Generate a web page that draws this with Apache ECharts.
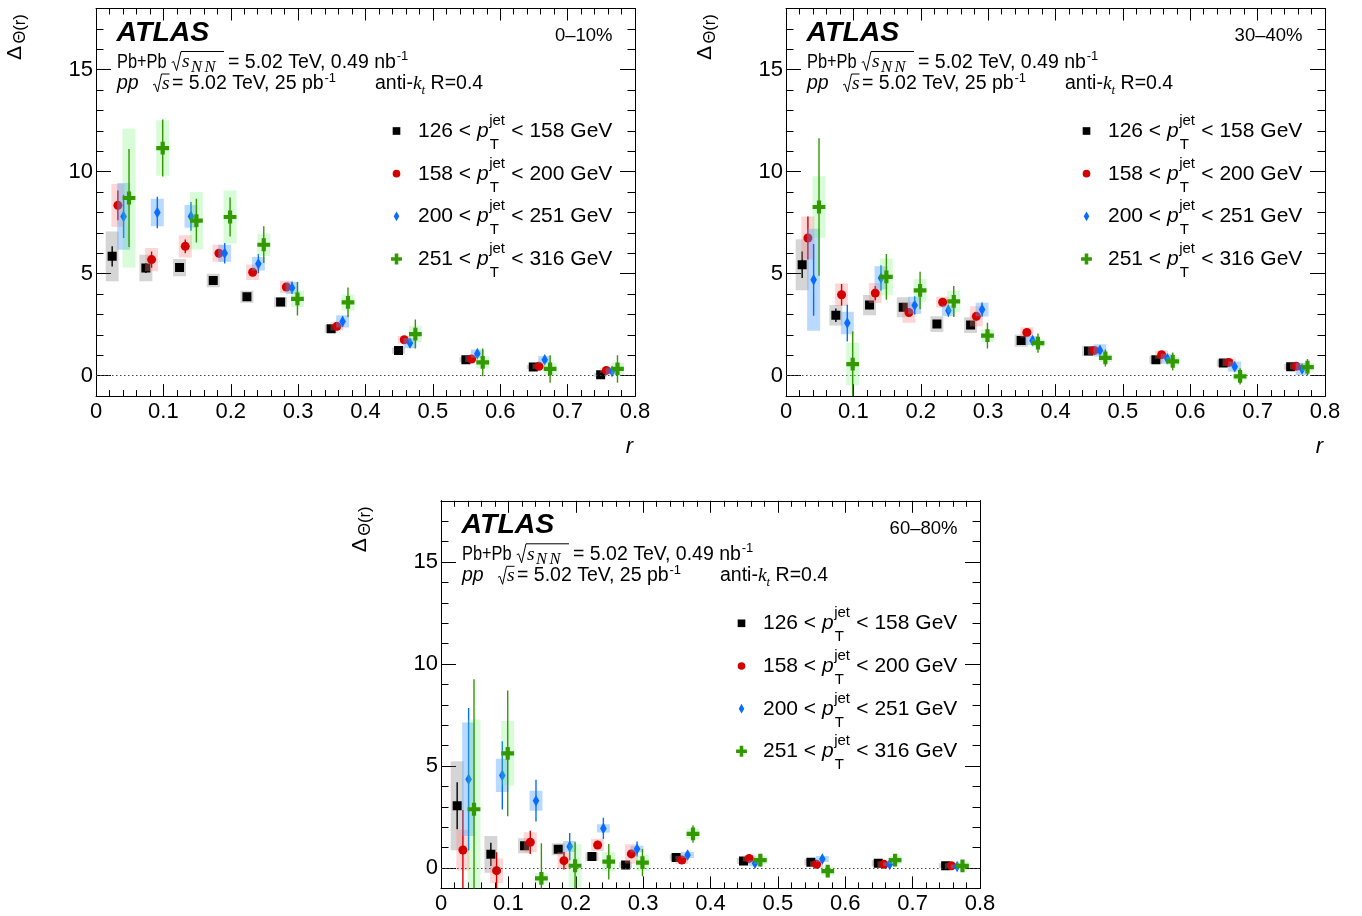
<!DOCTYPE html>
<html><head><meta charset="utf-8">
<script src="https://cdn.jsdelivr.net/npm/echarts@6/dist/echarts.min.js"></script>
<style>html,body{margin:0;padding:0;background:#fff}#chart{width:1362px;height:916px}</style>
</head><body><div id="chart"></div>
<script>
// ---------------- DATA ----------------
const rCenters = [0.025, 0.075, 0.125, 0.175, 0.225, 0.275, 0.35, 0.45, 0.55, 0.65, 0.75];
const xTickLabels = ['0', '0.1', '0.2', '0.3', '0.4', '0.5', '0.6', '0.7', '0.8'];
const yTickValues = [0, 5, 10, 15];
const centralityLabels = ['0\u201310%', '30\u201340%', '60\u201380%'];
const ptBinLabels = [['126', '158'], ['158', '200'], ['200', '251'], ['251', '316']];

// 0-10%
const val_c0_10_pt126  = [5.85, 5.28, 5.30, 4.67, 3.87, 3.61, 2.30, 1.23, 0.78, 0.43, 0.05];
const stat_c0_10_pt126 = [0.50, 0.25, 0.12, 0.10, 0.10, 0.10, 0.08, 0.06, 0.05, 0.05, 0.05];
const sys_c0_10_pt126  = [1.22, 0.65, 0.42, 0.33, 0.30, 0.25, 0.20, 0.15, 0.12, 0.10, 0.10];
const val_c0_10_pt158  = [8.35, 5.69, 6.34, 6.00, 5.07, 4.35, 2.42, 1.76, 0.82, 0.46, 0.26];
const stat_c0_10_pt158 = [0.73, 0.40, 0.34, 0.20, 0.15, 0.12, 0.10, 0.08, 0.06, 0.05, 0.05];
const sys_c0_10_pt158  = [1.05, 0.57, 0.55, 0.42, 0.38, 0.30, 0.20, 0.18, 0.15, 0.12, 0.12];
const val_c0_10_pt200  = [7.81, 8.00, 7.81, 6.00, 5.49, 4.30, 2.66, 1.60, 1.08, 0.78, 0.21];
const stat_c0_10_pt200 = [1.06, 0.77, 0.70, 0.50, 0.47, 0.30, 0.25, 0.20, 0.18, 0.15, 0.12];
const sys_c0_10_pt200  = [1.63, 0.67, 0.56, 0.42, 0.33, 0.30, 0.30, 0.25, 0.20, 0.18, 0.15];
const val_c0_10_pt251  = [8.71, 11.16, 7.60, 7.78, 6.42, 3.77, 3.59, 2.04, 0.65, 0.33, 0.33];
const stat_c0_10_pt251 = [2.40, 1.40, 1.07, 0.96, 0.90, 0.82, 0.73, 0.71, 0.68, 0.67, 0.67];
const sys_c0_10_pt251  = [3.40, 1.36, 1.41, 1.30, 0.55, 0.40, 0.39, 0.40, 0.30, 0.30, 0.30];

// 30-40%
const val_c30_40_pt126  = [5.44, 2.96, 3.46, 3.35, 2.53, 2.48, 1.72, 1.21, 0.78, 0.62, 0.44];
const stat_c30_40_pt126 = [0.65, 0.33, 0.20, 0.20, 0.12, 0.12, 0.10, 0.08, 0.07, 0.06, 0.05];
const sys_c30_40_pt126  = [1.25, 0.50, 0.50, 0.49, 0.39, 0.39, 0.30, 0.25, 0.20, 0.18, 0.15];
const val_c30_40_pt158  = [6.75, 3.97, 4.05, 3.10, 3.60, 2.91, 2.12, 1.24, 1.03, 0.65, 0.46];
const stat_c30_40_pt158 = [1.06, 0.53, 0.35, 0.20, 0.15, 0.20, 0.10, 0.08, 0.07, 0.06, 0.05];
const sys_c30_40_pt158  = [1.06, 0.55, 0.49, 0.50, 0.27, 0.50, 0.25, 0.22, 0.20, 0.18, 0.15];
const val_c30_40_pt200  = [4.70, 2.58, 4.79, 3.45, 3.19, 3.24, 1.72, 1.24, 0.83, 0.44, 0.33];
const stat_c30_40_pt200 = [1.76, 0.90, 0.63, 0.45, 0.30, 0.35, 0.20, 0.15, 0.12, 0.12, 0.10];
const sys_c30_40_pt200  = [2.50, 0.55, 0.57, 0.42, 0.26, 0.34, 0.22, 0.30, 0.25, 0.25, 0.30];
const val_c30_40_pt251  = [8.27, 0.57, 4.84, 4.18, 3.64, 1.96, 1.60, 0.87, 0.70, -0.03, 0.42];
const stat_c30_40_pt251 = [3.37, 1.60, 1.12, 0.92, 0.76, 0.63, 0.47, 0.42, 0.44, 0.40, 0.40];
const sys_c30_40_pt251  = [1.51, 1.04, 0.90, 0.56, 0.53, 0.31, 0.20, 0.20, 0.20, 0.20, 0.20];

// 60-80%
const val_c60_80_pt126  = [3.05, 0.67, 1.09, 0.92, 0.56, 0.15, 0.52, 0.34, 0.28, 0.23, 0.11];
const stat_c60_80_pt126 = [1.15, 0.57, 0.20, 0.15, 0.10, 0.10, 0.06, 0.05, 0.05, 0.04, 0.04];
const sys_c60_80_pt126  = [2.18, 0.90, 0.37, 0.29, 0.20, 0.15, 0.15, 0.15, 0.15, 0.15, 0.12];
const val_c60_80_pt158  = [0.88, -0.13, 1.26, 0.36, 1.13, 0.69, 0.39, 0.47, 0.18, 0.18, 0.11];
const stat_c60_80_pt158 = [1.96, 0.90, 0.57, 0.43, 0.20, 0.20, 0.10, 0.08, 0.07, 0.06, 0.05];
const sys_c60_80_pt158  = [1.00, 0.60, 0.49, 0.41, 0.30, 0.47, 0.20, 0.15, 0.15, 0.15, 0.12];
const val_c60_80_pt200  = [4.35, 4.54, 3.30, 1.05, 1.94, 0.93, 0.64, 0.23, 0.44, 0.18, 0.07];
const stat_c60_80_pt200 = [3.49, 1.67, 1.02, 0.67, 0.52, 0.37, 0.20, 0.15, 0.15, 0.12, 0.10];
const sys_c60_80_pt200  = [2.78, 0.82, 0.49, 0.27, 0.20, 0.16, 0.15, 0.15, 0.15, 0.10, 0.10];
const val_c60_80_pt251  = [2.88, 5.62, -0.51, 0.11, 0.31, 0.26, 1.67, 0.39, -0.15, 0.39, 0.10];
const stat_c60_80_pt251 = [6.37, 3.08, 1.72, 1.15, 0.87, 0.67, 0.43, 0.30, 0.30, 0.25, 0.20];
const sys_c60_80_pt251  = [4.40, 1.58, 0.25, 1.06, 0.47, 0.39, 0.25, 0.20, 0.20, 0.20, 0.20];

const panels = [
  [[val_c0_10_pt126, stat_c0_10_pt126, sys_c0_10_pt126], [val_c0_10_pt158, stat_c0_10_pt158, sys_c0_10_pt158],
   [val_c0_10_pt200, stat_c0_10_pt200, sys_c0_10_pt200], [val_c0_10_pt251, stat_c0_10_pt251, sys_c0_10_pt251]],
  [[val_c30_40_pt126, stat_c30_40_pt126, sys_c30_40_pt126], [val_c30_40_pt158, stat_c30_40_pt158, sys_c30_40_pt158],
   [val_c30_40_pt200, stat_c30_40_pt200, sys_c30_40_pt200], [val_c30_40_pt251, stat_c30_40_pt251, sys_c30_40_pt251]],
  [[val_c60_80_pt126, stat_c60_80_pt126, sys_c60_80_pt126], [val_c60_80_pt158, stat_c60_80_pt158, sys_c60_80_pt158],
   [val_c60_80_pt200, stat_c60_80_pt200, sys_c60_80_pt200], [val_c60_80_pt251, stat_c60_80_pt251, sys_c60_80_pt251]]
];

// ---------------- STYLE / LAYOUT ----------------
const FONT = '"Liberation Sans", Arial, Helvetica, sans-serif';
const SERIF = '"Liberation Serif", "Times New Roman", serif';
const K_MID = 0.345;
const grids = [
  {left: 96, top: 8.5, width: 539, height: 387.6},
  {left: 786, top: 8.5, width: 539, height: 387.6},
  {left: 441, top: 500.8, width: 539, height: 387.6}
];
const seriesOffsets = [-0.001, 0.0075, 0.016, 0.024];
const BOX_HW = 0.0096;
const seriesStyles = [
  {color: '#000000', box: 'rgba(100,100,100,0.27)', marker: 'square'},
  {color: '#d40000', box: 'rgba(255,130,130,0.33)', marker: 'circle'},
  {color: '#0a6cff', box: 'rgba(80,160,255,0.40)', marker: 'diamond'},
  {color: '#339900', box: 'rgba(100,240,100,0.25)', marker: 'cross'}
];

function markerEl(kind, cx, cy, color, s) {
  s = s || 1;
  if (kind === 'square') {
    const h = 4.5 * s;
    return {type: 'rect', shape: {x: cx - h, y: cy - h, width: 2 * h, height: 2 * h}, style: {fill: color}};
  }
  if (kind === 'circle') {
    return {type: 'circle', shape: {cx: cx, cy: cy, r: 4.5 * s}, style: {fill: color}};
  }
  if (kind === 'diamond') {
    const w = 3.3 * s, h = 5.8 * s;
    return {type: 'polygon', shape: {points: [[cx, cy - h], [cx + w, cy], [cx, cy + h], [cx - w, cy]]}, style: {fill: color}};
  }
  const a = 6.4 * s, t = 2.1 * s;
  const p = [[-t, -a], [t, -a], [t, -t], [a, -t], [a, t], [t, t], [t, a], [-t, a], [-t, t], [-a, t], [-a, -t], [-t, -t]];
  return {type: 'polygon', shape: {points: p.map(q => [cx + q[0], cy + q[1]])}, style: {fill: color}};
}

function makeRender(st) {
  return function (params, api) {
    const x = api.value(0), y = api.value(1), se = api.value(2), sy = api.value(3);
    const c = api.coord([x, y]);
    const ysT = api.coord([x, y + sy])[1], ysB = api.coord([x, y - sy])[1];
    const yeT = api.coord([x, y + se])[1], yeB = api.coord([x, y - se])[1];
    const xl = api.coord([x - BOX_HW, y])[0], xr = api.coord([x + BOX_HW, y])[0];
    return {
      type: 'group',
      children: [
        {type: 'rect', shape: {x: xl, y: ysT, width: xr - xl, height: ysB - ysT}, style: {fill: st.box}},
        {type: 'line', shape: {x1: c[0], y1: yeT, x2: c[0], y2: yeB}, style: {stroke: st.color, lineWidth: 1.4}},
        markerEl(st.marker, c[0], c[1], st.color, 1)
      ]
    };
  };
}

const xAxes = [], yAxes = [], series = [];
const black = '#000';
grids.forEach((g, gi) => {
  const xc = {
    gridIndex: gi, type: 'value', min: 0, max: 0.8, interval: 0.1,
    splitLine: {show: false}, minorSplitLine: {show: false},
    axisLine: {show: true, onZero: false, lineStyle: {color: black, width: 1}},
    axisTick: {show: true, inside: true, length: 12, lineStyle: {color: black, width: 1}},
    minorTick: {show: true, splitNumber: 5, length: 6, lineStyle: {color: black, width: 1}}
  };
  xAxes.push(Object.assign({}, xc, {
    position: 'bottom',
    axisLabel: {show: true, color: black, fontFamily: FONT, fontSize: 22, margin: 5,
      showMinLabel: true, showMaxLabel: true,
      formatter: v => xTickLabels[Math.round(v * 10)]}
  }));
  xAxes.push(Object.assign({}, xc, {position: 'top', axisLabel: {show: false}}));
  const yc = {
    gridIndex: gi, type: 'value', min: -1, max: 18, splitLine: {show: false},
    axisLine: {show: true, onZero: false, lineStyle: {color: black, width: 1}}
  };
  const minorY = {show: true, inside: true, length: 7.5, lineStyle: {color: black, width: 1}};
  const majorY = {show: true, inside: true, length: 15, customValues: yTickValues, lineStyle: {color: black, width: 1}};
  yAxes.push(Object.assign({}, yc, {position: 'left', interval: 1, axisTick: minorY, axisLabel: {show: false}}));
  yAxes.push(Object.assign({}, yc, {position: 'left', axisTick: majorY,
    axisLabel: {show: true, customValues: yTickValues, color: black, fontFamily: FONT, fontSize: 22, margin: 3}}));
  yAxes.push(Object.assign({}, yc, {position: 'right', interval: 1, axisTick: minorY, axisLabel: {show: false}}));
  yAxes.push(Object.assign({}, yc, {position: 'right', axisTick: majorY, axisLabel: {show: false}}));

  series.push({
    type: 'line', xAxisIndex: 2 * gi, yAxisIndex: 4 * gi, data: [], z: 1, silent: true,
    markLine: {silent: true, symbol: 'none', label: {show: false}, animation: false,
      lineStyle: {type: [1.5, 2.5], color: '#444', width: 1}, data: [{yAxis: 0}]}
  });
  panels[gi].forEach((ser, si) => {
    const vals = ser[0], stats = ser[1], syss = ser[2];
    series.push({
      type: 'custom', coordinateSystem: 'cartesian2d', xAxisIndex: 2 * gi, yAxisIndex: 4 * gi,
      z: 2 + si, clip: true, silent: true,
      encode: {x: 0, y: 1},
      data: rCenters.map((r, i) => [r + seriesOffsets[si], vals[i], stats[i], syss[i]]),
      renderItem: makeRender(seriesStyles[si])
    });
  });
});

// ---------------- TEXT ----------------
const mctx = document.createElement('canvas').getContext('2d');
function fstr(sz, o) { o = o || {}; return (o.italic ? 'italic ' : '') + (o.bold ? 'bold ' : '') + sz + 'px ' + (o.serif ? SERIF : FONT); }
function tw(t, sz, o) { mctx.font = fstr(sz, o); return mctx.measureText(t).width; }
function T(x, base, t, sz, o) {
  o = o || {};
  const al = o.align || 'left';
  const el = {type: 'text', x: x, y: base - K_MID * sz, z: 100, silent: true,
    style: {text: t, font: fstr(sz, o), fill: '#000', textAlign: al, align: al, textVerticalAlign: 'middle', verticalAlign: 'middle'}};
  if (o.scaleX) el.scaleX = o.scaleX;
  return el;
}
function PL(points) {
  return {type: 'polyline', z: 100, silent: true, shape: {points: points}, style: {stroke: '#000', lineWidth: 1, fill: null}};
}

const HS = 19.5; // header text size
const graphicEls = [];
grids.forEach((g, gi) => {
  const ox = g.left, oy = g.top;
  const E = graphicEls;
  E.push(T(ox + 20.5, oy + 34, 'ATLAS', 28.5, {bold: true, italic: true}));
  E.push(T(ox + 516.5, oy + 34, centralityLabels[gi], 18.5, {align: 'right'}));
  // line 1
  let b = oy + 60.5;
  E.push(T(ox + 21, b, 'Pb+Pb', HS, {scaleX: 0.84}));
  E.push(PL([[ox + 75.7, oy + 54], [ox + 77.6, oy + 53], [ox + 80.6, oy + 62], [ox + 85, oy + 43], [ox + 128, oy + 43]]));
  E.push(T(ox + 86, b, 's', HS, {italic: true, serif: true}));
  const nnx = ox + 86 + tw('s', HS, {italic: true, serif: true}) + 1.5;
  E.push(T(nnx, b + 4.5, 'N', 16.5, {italic: true, serif: true}));
  E.push(T(nnx + tw('N', 16.5, {italic: true, serif: true}) + 2.5, b + 4.5, 'N', 16.5, {italic: true, serif: true}));
  let t1 = '= 5.02 TeV, 0.49 nb';
  E.push(T(ox + 132, b, t1, HS));
  E.push(T(ox + 132 + tw(t1, HS) + 0.8, b - 8, '-1', 13));
  // line 2
  b = oy + 82;
  E.push(T(ox + 21, b, 'pp', HS, {italic: true}));
  E.push(PL([[ox + 57, oy + 76.5], [ox + 58.8, oy + 75.5], [ox + 61.6, oy + 83.5], [ox + 65.5, oy + 65.5], [ox + 73.5, oy + 65.5]]));
  E.push(T(ox + 66, b, 's', HS, {italic: true, serif: true}));
  let t2 = '= 5.02 TeV, 25 pb';
  E.push(T(ox + 76, b, t2, HS));
  E.push(T(ox + 76 + tw(t2, HS) + 0.8, b - 8, '-1', 13));
  let ax = ox + 279;
  E.push(T(ax, b, 'anti-', HS));
  ax += tw('anti-', HS);
  E.push(T(ax, b, 'k', HS, {italic: true, serif: true}));
  ax += tw('k', HS, {italic: true, serif: true});
  E.push(T(ax, b + 4.5, 't', 13, {italic: true, serif: true}));
  ax += tw('t', 13, {italic: true, serif: true});
  E.push(T(ax, b, ' R=0.4', HS));
  // legend
  const LS = 21;
  for (let i = 0; i < 4; i++) {
    const cy = oy + 122.5 + 42.67 * i;
    const lb = cy + 7.5;
    E.push(Object.assign(markerEl(seriesStyles[i].marker, ox + 300.5, cy, seriesStyles[i].color, 0.85), {z: 100, silent: true}));
    let lx = ox + 322;
    const a = ptBinLabels[i][0] + ' < ';
    E.push(T(lx, lb, a, LS));
    lx += tw(a, LS);
    E.push(T(lx, lb, 'p', LS, {italic: true}));
    lx += tw('p', LS, {italic: true}) + 0.5;
    E.push(T(lx, lb - 12.5, 'jet', 15));
    E.push(T(lx + 0.5, lb + 11.5, 'T', 15));
    lx += tw('jet', 15) + 0.5;
    E.push(T(lx, lb, ' < ' + ptBinLabels[i][1] + ' GeV', LS));
  }
  // y title (rotated)
  E.push({
    type: 'group', x: ox - 74, y: oy + 51.5, rotation: Math.PI / 2, z: 100, silent: true,
    children: [
      T(0, 0, '\u0394', 21),
      T(16.5, 4.5, '\u0398(r)', 16.5)
    ]
  });
  // x title
  if (gi < 2) E.push(T(ox + 537, oy + g.height + 58, 'r', 22, {italic: true, align: 'right'}));
});

const chart = echarts.init(document.getElementById('chart'));
chart.setOption({
  animation: false,
  backgroundColor: '#fff',
  grid: grids.map(g => ({left: g.left, top: g.top, width: g.width, height: g.height, containLabel: false, outerBoundsMode: 'none', show: false})),
  xAxis: xAxes,
  yAxis: yAxes,
  series: series,
  graphic: {elements: graphicEls}
});
</script>
</body></html>
